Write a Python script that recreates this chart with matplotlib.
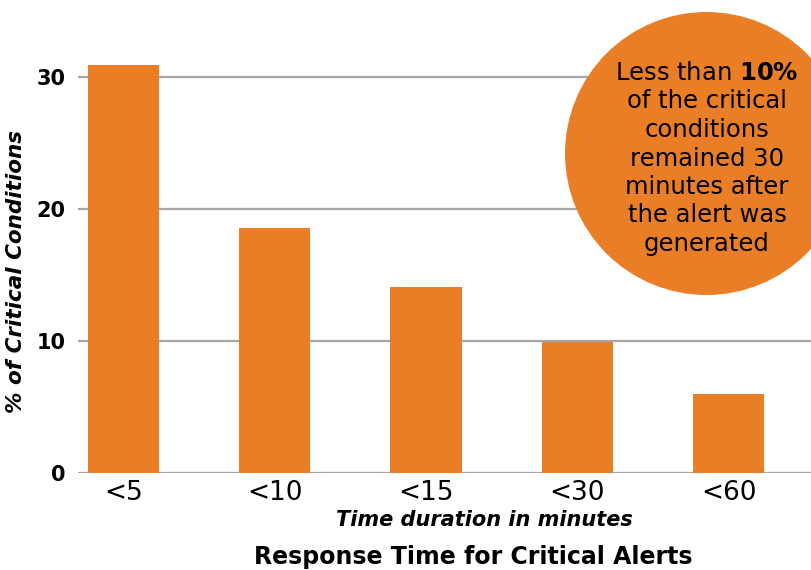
import matplotlib.pyplot as plt
from matplotlib.patches import Ellipse

# values
categories = ["<5", "<10", "<15", "<30", "<60"]
percent = [30.9, 18.6, 14.1, 9.9, 6.0]
y_ticks = [0, 10, 20, 30]

callout_first = r"Less than $\bf{10\%}$"
callout_rest = ["of the critical", "conditions", "remained 30",
                "minutes after", "the alert was", "generated"]

ORANGE = "#E97E26"
GRID = "#A6A6A6"

plt.rcParams['font.family'] = ['DejaVu Sans']
plt.rcParams['mathtext.fontset'] = 'dejavusans'

fig = plt.figure(figsize=(8.12, 5.70), dpi=100)
ax = fig.add_axes([0.096, 0.1702, 0.904, 0.7175])

x = range(len(categories))
ax.bar(x, percent, width=0.47, color=ORANGE, zorder=3)

ax.set_xlim(-0.3, 4.55)
ax.set_ylim(0, 31)
ax.set_yticks(y_ticks)
ax.set_yticklabels([str(v) for v in y_ticks], fontweight='bold', fontsize=15)
ax.set_xticks(list(x))
ax.set_xticklabels(categories, fontsize=19)
ax.tick_params(axis='both', length=0)
ax.tick_params(axis='y', pad=9)
ax.tick_params(axis='x', pad=5)

for v in y_ticks:
    ax.axhline(v, color=GRID, lw=1.6, zorder=1)

for s in ax.spines.values():
    s.set_visible(False)

fig.text(16 / 812, 1 - 272 / 570, "% of Critical Conditions", fontsize=15.5,
         fontweight='bold', style='italic', rotation=90,
         ha='center', va='center')

fig.text(484 / 812, 1 - 520 / 570, "Time duration in minutes", fontsize=15,
         fontweight='bold', style='italic', ha='center', va='center')
fig.text(473 / 812, 1 - 557 / 570, "Response Time for Critical Alerts",
         fontsize=17, fontweight='bold', ha='center', va='center')

# callout circle in the top right corner
circle = Ellipse((706.5 / 812, 1 - 153.5 / 570), 283 / 812, 283 / 570,
                 transform=fig.transFigure, facecolor=ORANGE, edgecolor='none',
                 zorder=5)
fig.add_artist(circle)

cx = 707 / 812
line_y = 73
fig.text(cx, 1 - line_y / 570, callout_first, fontsize=17.5, ha='center',
         va='center', zorder=6)
for i, line in enumerate(callout_rest):
    fig.text(cx, 1 - (line_y + 28.5 * (i + 1)) / 570, line, fontsize=17.5,
             ha='center', va='center', zorder=6)

fig.savefig("out.png", dpi=100)
